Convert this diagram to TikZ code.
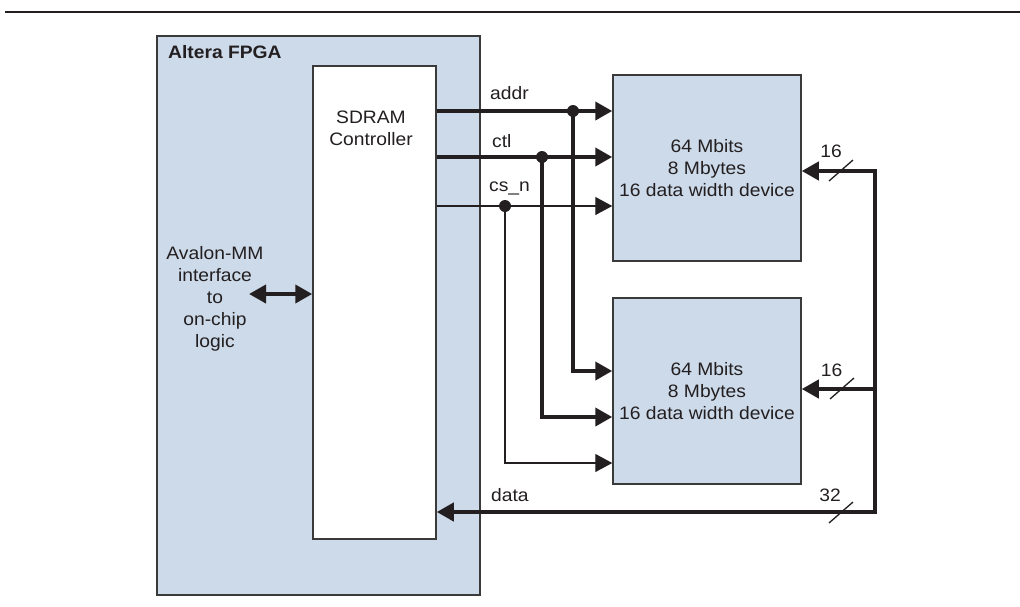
\documentclass[tikz,border=0pt]{standalone}
\usepackage{fontspec}
\setmainfont[FakeStretch=1.07]{Liberation Sans}
\usetikzlibrary{arrows.meta}
\definecolor{chipblue}{HTML}{CDDAEA}
\definecolor{ink}{HTML}{231F20}
\definecolor{edge}{HTML}{3A3A3A}
\begin{document}
\begin{tikzpicture}[x=1pt,y=-1pt,
  every node/.style={text=ink, font=\fontsize{18}{22}\selectfont},
  box/.style={draw=edge, line width=1.5pt, fill=chipblue, inner sep=0pt},
  bus/.style={line width=4pt, draw=ink},
  wire/.style={line width=1.3pt, draw=ink},
  tip/.style={-{Triangle[length=17pt,width=18pt]}},
  dot/.style={circle, fill=ink, inner sep=0pt, minimum size=12pt},
  lbl/.style={anchor=west, inner sep=0pt}]
\useasboundingbox (0,0) rectangle (1020,606);
\draw[line width=2pt, ink] (5,12) -- (1020,12);
% boxes
\node[box, minimum width=323pt, minimum height=559pt] (fpga) at (318.5,315.5) {};
\node[lbl, font=\bfseries\fontsize{18}{22}\selectfont] (fpgalbl) at (168,52) {Altera FPGA};
\node[box, fill=white, minimum width=123pt, minimum height=473pt] (ctrl) at (374.5,302.5) {};
\node[align=center] (ctrltxt) at (371,128) {SDRAM\\Controller};
\node[box, minimum width=188pt, minimum height=186pt, align=center] (mem1) at (707,168) {64 Mbits\\8 Mbytes\\16 data width device};
\node[box, minimum width=188pt, minimum height=186pt, align=center] (mem2) at (707,391) {64 Mbits\\8 Mbytes\\16 data width device};
\node[align=center] (aval) at (215,299) {Avalon-MM\\interface\\to\\on-chip\\logic};
% avalon arrow
\coordinate (avL) at (249,294);
\draw[bus, {Triangle[length=17pt,width=18pt]}-{Triangle[length=17pt,width=18pt]}] (avL) -- (ctrl.west |- avL);
% control signals
\coordinate (ya) at (0,111);
\coordinate (yc) at (0,157);
\coordinate (ys) at (0,206);
\coordinate (ja) at (573,111);
\coordinate (jc) at (542,157);
\coordinate (js) at (505,206);
\coordinate (ya2) at (0,371);
\coordinate (yc2) at (0,417);
\coordinate (ys2) at (0,463);
\draw[bus, tip] (ctrl.east |- ya) -- (mem1.west |- ya);
\draw[bus, tip] (ctrl.east |- yc) -- (mem1.west |- yc);
\draw[wire, tip] (ctrl.east |- ys) -- (mem1.west |- ys);
\draw[bus, tip] (ja) |- (mem2.west |- ya2);
\draw[bus, tip] (jc) |- (mem2.west |- yc2);
\draw[wire, tip] (js) |- (mem2.west |- ys2);
\node[dot] (dja) at (ja) {};
\node[dot] (djc) at (jc) {};
\node[dot] (djs) at (js) {};
\node[lbl] (laddr) at (490,93) {addr};
\node[lbl] (lctl) at (492,141) {ctl};
\node[lbl] (lcsn) at (489,188) {cs\_n};
% data bus
\coordinate (d1) at (875,171);
\coordinate (d2) at (875,389);
\coordinate (d3) at (875,512);
\draw[bus, {Triangle[length=17pt,width=18pt]}-{Triangle[length=17pt,width=18pt]}] (mem1.east |- d1) -- (d1) -- (d3) -- (ctrl.east |- d3);
\draw[bus, tip] (d2) -- (mem2.east |- d2);
\node[lbl] (ldata) at (491,495) {data};
% width slashes
\coordinate (s1) at (841,171);
\coordinate (s2) at (842,389);
\coordinate (s3) at (841,513);
\draw[wire] ([shift={(-12,10)}]s1) -- ([shift={(12,-11)}]s1);
\draw[wire] ([shift={(-12,10)}]s2) -- ([shift={(12,-11)}]s2);
\draw[wire] ([shift={(-12,10)}]s3) -- ([shift={(12,-11)}]s3);
\node (w1) at (831,151) {16};
\node (w2) at (831.5,370) {16};
\node (w3) at (830,495) {32};
\end{tikzpicture}
\end{document}
